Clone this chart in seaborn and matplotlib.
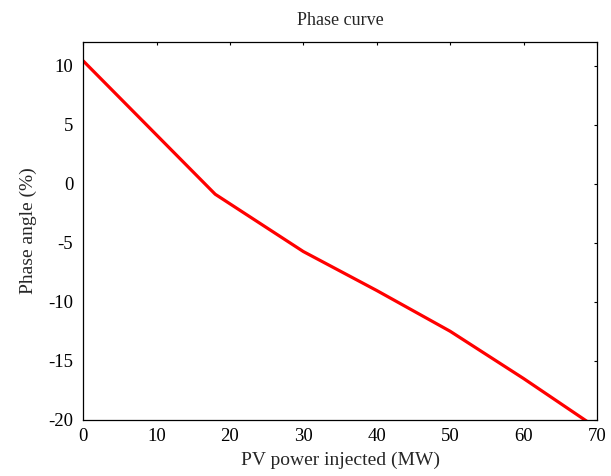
import numpy as np
import pandas as pd
import matplotlib
matplotlib.use("Agg")
import matplotlib.pyplot as plt
import seaborn as sns

# values
pv_power = [0, 18, 30, 40, 50, 60, 70]
phase_angle = [10.4, -0.9, -5.75, -9.05, -12.5, -16.5, -20.7]
x_ticks = [0, 10, 20, 30, 40, 50, 60, 70]
y_ticks = [-20, -15, -10, -5, 0, 5, 10]

df = pd.DataFrame({"PV": pv_power, "Phase": phase_angle})

sns.set_style("white")
plt.rcParams["font.family"] = ["Liberation Serif", "DejaVu Serif"]
plt.rcParams["axes.unicode_minus"] = False

fig = plt.figure(figsize=(6.11, 4.76), dpi=100)
ax = fig.add_axes([0.136, 0.118, 0.841, 0.794])

sns.lineplot(data=df, x="PV", y="Phase", color="red", linewidth=2.3, ax=ax)

ax.set_xlim(0, 70)
ax.set_ylim(-20, 12)
ax.set_xticks(x_ticks)
ax.set_yticks(y_ticks)
ax.tick_params(direction="in", length=2.5, width=0.8, top=True, right=True,
               labelsize=13.5, colors="black")
ax.tick_params(axis="x", pad=6)
ax.tick_params(axis="y", pad=7)
for s in ax.spines.values():
    s.set_color("black")
    s.set_linewidth(0.9)
    s.set_visible(True)

ax.set_title("Phase curve", fontsize=13, pad=12)
ax.set_xlabel("PV power injected (MW)", fontsize=14, labelpad=5)
ax.set_ylabel("Phase angle (%)", fontsize=14, labelpad=8)

fig.savefig("out.png", dpi=100)
